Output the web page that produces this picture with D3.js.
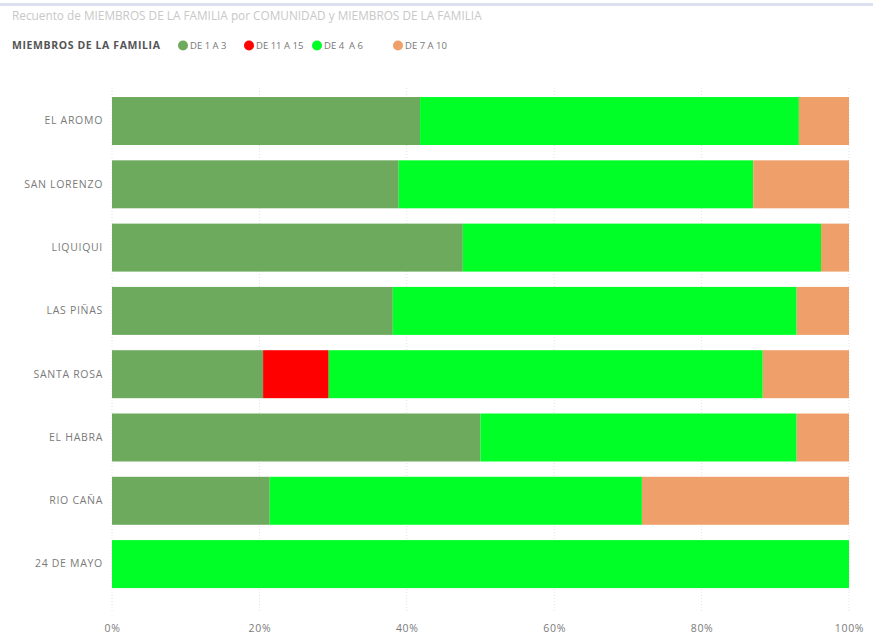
<!DOCTYPE html>
<html>
<head>
<meta charset="utf-8">
<script src="https://cdn.jsdelivr.net/npm/d3@7"></script>
<style>
  html, body { margin: 0; padding: 0; background: #ffffff; }
  svg { display: block; font-family: "Open Sans", "Noto Sans", sans-serif; }
</style>
</head>
<body>
<svg id="chart" width="873" height="639"></svg>
<script>
// Communities, top to bottom
const categories = ["EL AROMO", "SAN LORENZO", "LIQUIQUI", "LAS PIÑAS", "SANTA ROSA", "EL HABRA", "RIO CAÑA", "24 DE MAYO"];

// Share of families (%) per household-size group, in stacking order
const seriesNames = ["DE 1 A 3", "DE 11 A 15", "DE 4  A 6", "DE 7 A 10"];
const de1a3   = [41.8, 38.9, 47.6, 38.1, 20.5, 50.0, 21.4, 0];
const de11a15 = [0, 0, 0, 0, 8.9, 0, 0, 0];
const de4a6   = [51.4, 48.1, 48.6, 54.8, 58.9, 42.9, 50.5, 100];
const de7a10  = [6.8, 13.0, 3.8, 7.1, 11.7, 7.1, 28.1, 0];
const seriesColors = ["#6daa5e", "#ff0000", "#00ff26", "#efa06a"];

const tickValues = [0, 0.2, 0.4, 0.6, 0.8, 1];
const tickLabels = ["0%", "20%", "40%", "60%", "80%", "100%"];

const titleText = "Recuento de MIEMBROS DE LA FAMILIA por COMUNIDAD y MIEMBROS DE LA FAMILIA";
const legendTitle = "MIEMBROS DE LA FAMILIA";

const svg = d3.select("#chart");

// Top frame line
svg.append("rect").attr("x", 0).attr("y", 3).attr("width", 873).attr("height", 3).attr("fill", "#dde0ee");

svg.append("text").attr("x", 12).attr("y", 20)
  .attr("font-size", 11.8).attr("fill", "#c8c8c8").text(titleText);

// Legend: swatch centres along the row
const legendSlots = [171, 237, 305, 386];
const legend = svg.append("g").attr("transform", "translate(12,49)");
legend.append("text").attr("x", 0).attr("y", 0)
  .attr("font-size", 10.5).attr("font-weight", "bold").attr("letter-spacing", 0.6)
  .attr("fill", "#555").text(legendTitle);
seriesNames.forEach((name, i) => {
  const cx = legendSlots[i];
  legend.append("circle").attr("cx", cx).attr("cy", -3.5).attr("r", 5).attr("fill", seriesColors[i]);
  legend.append("text").attr("x", cx + 7).attr("y", 0)
    .attr("font-size", 9.5).attr("fill", "#777")
    .style("white-space", "pre").text(name);
});

// Stacked data
const rows = categories.map((c, i) => ({
  cat: c,
  [seriesNames[0]]: de1a3[i],
  [seriesNames[1]]: de11a15[i],
  [seriesNames[2]]: de4a6[i],
  [seriesNames[3]]: de7a10[i]
}));
const stack = d3.stack().keys(seriesNames).offset(d3.stackOffsetExpand);
const stacked = stack(rows);

const x = d3.scaleLinear().domain([0, 1]).range([112, 849]);
const y = d3.scaleBand().domain(categories).range([90.7, 594.4]).paddingInner(0.242).paddingOuter(0.1);

// Gridlines
svg.append("g").selectAll("line").data(tickValues).join("line")
  .attr("x1", d => x(d)).attr("x2", d => x(d))
  .attr("y1", 88).attr("y2", 612)
  .attr("stroke", "#e2e2e2").attr("stroke-width", 1).attr("stroke-dasharray", "1,2");

// Bars
svg.append("g").selectAll("g").data(stacked).join("g")
  .attr("fill", (d, i) => seriesColors[i])
  .selectAll("rect").data(d => d).join("rect")
  .attr("x", d => x(d[0]))
  .attr("y", d => y(d.data.cat))
  .attr("width", d => Math.max(0, x(d[1]) - x(d[0])))
  .attr("height", y.bandwidth());

// Category axis
const yAxis = svg.append("g").attr("transform", "translate(103,0)")
  .call(d3.axisLeft(y).tickSize(0).tickPadding(0));
yAxis.select(".domain").remove();
yAxis.selectAll("text").attr("font-size", 10.5).attr("letter-spacing", 0.7).attr("fill", "#7a7a7a")
  .attr("font-family", "\"Open Sans\", \"Noto Sans\", sans-serif");

// Percent axis
const xAxis = svg.append("g").attr("transform", "translate(0,619)")
  .call(d3.axisBottom(x).tickValues(tickValues).tickFormat((d, i) => tickLabels[i]).tickSize(0).tickPadding(6));
xAxis.select(".domain").remove();
xAxis.selectAll("text").attr("font-size", 10.5).attr("letter-spacing", 0.7).attr("fill", "#7a7a7a")
  .attr("font-family", "\"Open Sans\", \"Noto Sans\", sans-serif");
</script>
</body>
</html>
